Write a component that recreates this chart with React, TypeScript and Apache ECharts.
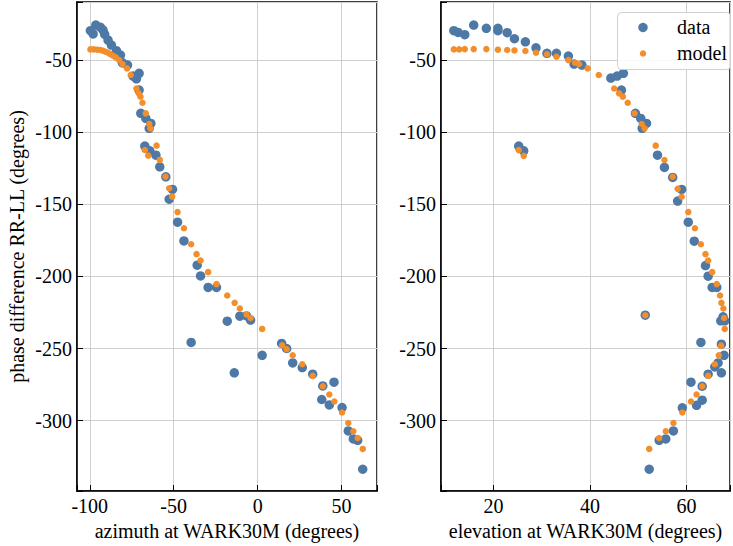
import React, { useEffect, useRef } from "react";
import * as echarts from "echarts";

// azimuth (deg) vs phase difference (deg)
const azimuthData: number[][] = [
  [-99.6, -29.4], [-98.0, -31.7], [-96.4, -25.5], [-93.6, -27.1], [-92.1, -29.0], [-91.1, -32.0],
  [-89.1, -35.9], [-87.1, -39.4], [-84.1, -43.3], [-81.7, -46.3], [-80.5, -51.7], [-77.5, -53.3],
  [-74.2, -60.9], [-70.6, -59.0], [-72.2, -62.8], [-70.6, -70.6], [-69.6, -86.8], [-66.6, -90.3],
  [-63.6, -93.8], [-64.6, -97.2], [-67.2, -109.5], [-64.2, -112.8], [-60.6, -115.8], [-58.3, -123.9],
  [-54.7, -130.8], [-50.7, -139.6], [-52.7, -146.4], [-47.7, -162.3], [-43.9, -175.3], [-36.0, -192.2],
  [-34.0, -199.6], [-29.5, -207.6], [-24.5, -207.6], [-18.1, -231.0], [-10.6, -227.6], [-6.6, -227.4],
  [-4.2, -230.3], [-39.6, -245.8], [-13.9, -266.9], [2.7, -254.7], [14.3, -246.5], [17.3, -250.0],
  [20.9, -260.0], [26.6, -263.2], [32.8, -267.8], [38.8, -276.0], [45.5, -273.4], [38.2, -285.4],
  [42.7, -289.2], [50.3, -291.0], [54.0, -307.2], [57.0, -312.8], [59.6, -313.7], [62.6, -333.8],
];
const azimuthModel: number[][] = [
  [-99.6, -42.4], [-97.6, -42.4], [-95.6, -42.6], [-93.6, -42.8], [-92.1, -43.3], [-90.5, -44.0],
  [-89.1, -44.7], [-87.7, -45.7], [-86.1, -46.8], [-84.5, -47.9], [-82.5, -49.8], [-80.5, -52.6],
  [-77.8, -55.6], [-75.6, -60.2], [-72.2, -69.5], [-70.8, -72.9], [-69.8, -75.2], [-68.6, -79.4],
  [-66.6, -86.8], [-64.6, -94.2], [-63.8, -97.2], [-60.2, -109.2], [-67.2, -112.2], [-65.2, -116.1],
  [-58.3, -119.1], [-54.9, -130.7], [-52.7, -138.8], [-50.9, -144.6], [-47.7, -155.3], [-43.9, -166.5],
  [-39.6, -177.6], [-36.4, -184.5], [-34.0, -188.9], [-29.5, -197.0], [-24.5, -205.3], [-18.1, -213.2],
  [-13.7, -218.3], [-10.6, -222.2], [-6.6, -226.4], [-4.2, -228.8], [2.7, -236.4], [14.6, -247.7],
  [17.3, -250.5], [20.9, -254.7], [26.6, -260.9], [32.8, -269.0], [38.8, -276.2], [42.7, -281.9],
  [45.7, -286.8], [50.3, -294.4], [54.0, -301.7], [57.0, -307.4], [59.6, -312.1], [62.6, -319.7],
];

// elevation (deg) vs phase difference (deg)
const elevationData: number[][] = [
  [11.76, -29.4], [12.65, -30.6], [14.03, -32.2], [15.88, -25.5], [18.5, -27.8], [20.89, -27.8],
  [20.89, -29.4], [22.82, -30.8], [24.32, -35.0], [26.59, -37.1], [28.79, -41.3], [31.06, -45.1],
  [33.03, -45.1], [35.5, -47.0], [36.68, -52.6], [38.3, -53.3], [44.3, -62.3], [46.9, -59.0],
  [45.6, -60.9], [46.5, -70.6], [49.4, -86.8], [50.5, -90.3], [51.7, -93.8], [50.8, -97.2],
  [25.21, -109.5], [26.24, -112.8], [53.97, -115.8], [55.41, -124.3], [57.12, -131.3], [58.98, -139.6],
  [58.15, -147.7], [60.35, -162.3], [61.59, -175.5], [63.92, -192.4], [64.47, -199.8], [65.3, -207.6],
  [66.26, -207.6], [67.56, -228.0], [67.09, -230.8], [67.9, -230.8], [51.44, -226.9], [62.97, -245.8],
  [67.22, -247.0], [67.77, -254.7], [66.53, -260.0], [65.85, -262.8], [67.22, -266.9], [64.47, -267.8],
  [63.24, -276.2], [60.91, -273.4], [63.24, -285.9], [62.07, -289.4], [59.12, -291.2], [57.27, -307.2],
  [55.69, -312.8], [54.32, -313.7], [52.26, -333.8],
];
const elevationModel: number[][] = [
  [11.76, -42.4], [12.86, -42.4], [14.03, -42.2], [15.88, -42.2], [18.5, -42.2], [20.89, -42.6],
  [22.82, -42.8], [24.32, -43.1], [26.59, -43.5], [28.79, -44.7], [31.06, -45.8], [33.03, -47.5],
  [35.5, -49.8], [36.88, -51.7], [37.71, -52.6], [39.5, -55.6], [41.8, -60.2], [45.0, -69.5],
  [46.0, -72.9], [46.8, -75.2], [47.8, -79.4], [49.2, -86.8], [50.7, -94.2], [51.3, -97.2],
  [53.6, -109.2], [25.21, -112.3], [26.24, -116.3], [55.41, -119.2], [57.12, -130.8], [58.15, -139.2],
  [58.98, -144.7], [60.35, -155.3], [61.73, -166.5], [62.97, -177.6], [63.92, -184.5], [64.47, -188.9],
  [65.3, -197.0], [66.26, -205.3], [66.94, -213.2], [67.22, -218.3], [67.63, -222.2], [67.77, -228.8],
  [67.91, -236.4], [51.44, -226.9], [67.15, -248.0], [66.67, -254.7], [65.85, -260.9], [64.47, -269.0],
  [63.24, -276.2], [62.07, -281.9], [60.91, -286.8], [59.12, -294.4], [57.27, -301.7], [55.69, -307.4],
  [54.32, -312.1], [52.26, -319.7],
];

const seriesNames = ["data", "model"];
const xAxisNames = ["azimuth at WARK30M (degrees)", "elevation at WARK30M (degrees)"];
const yAxisName = "phase difference RR-LL (degrees)";
const xTickSteps = [50, 20];
const yTickStep = 50;

const FONT = "Liberation Serif";
const FS = 20;
const BLUE = "#4E79A7";
const ORANGE = "#F28E2B";

const stepFormatter = (step: number) => (v: number) =>
  Math.abs(v / step - Math.round(v / step)) < 1e-6 ? String(Math.round(v)) : "";

export default function App() {
  const ref = useRef<HTMLDivElement>(null);
  useEffect(() => {
    const chart = echarts.init(ref.current!, null, { renderer: "svg" });
    const axisCommon = {
      type: "value" as const,
      axisLine: { show: true, onZero: false, lineStyle: { color: "#000", width: 1.5 } },
      axisTick: { show: true, inside: true, length: 6, lineStyle: { color: "#000", width: 1 } },
      splitLine: { show: true, lineStyle: { color: "#cfcfcf", width: 1 } },
      nameTextStyle: { fontSize: FS, color: "#000", fontFamily: FONT },
    };
    const labelCommon = { color: "#000", fontSize: FS, fontFamily: FONT, margin: 5 };
    const gridCommon = { show: true, borderColor: "#000", borderWidth: 1.5, top: 2, bottom: 55 };
    const textStyle = { fill: "#000", font: `${FS}px ${FONT}`, verticalAlign: "middle" as const };
    chart.setOption({
      animation: false,
      textStyle: { fontFamily: FONT },
      grid: [
        { ...gridCommon, left: 77, right: 356 },
        { ...gridCommon, left: 441, right: 1 },
      ],
      xAxis: [
        {
          ...axisCommon, gridIndex: 0, min: -107.6, max: 71.1, splitNumber: 3,
          axisLabel: { ...labelCommon, formatter: stepFormatter(xTickSteps[0]) },
          name: xAxisNames[0], nameLocation: "middle", nameGap: 27,
        },
        {
          ...axisCommon, gridIndex: 1, min: 9.1, max: 69.0, splitNumber: 3,
          axisLabel: { ...labelCommon, formatter: stepFormatter(xTickSteps[1]) },
          name: xAxisNames[1], nameLocation: "middle", nameGap: 27,
        },
      ],
      yAxis: [
        {
          ...axisCommon, gridIndex: 0, min: -348.9, max: -9.5, splitNumber: 6,
          axisLabel: { ...labelCommon, formatter: stepFormatter(yTickStep) },
          name: yAxisName, nameLocation: "middle", nameGap: 50,
        },
        {
          ...axisCommon, gridIndex: 1, min: -348.9, max: -9.5, splitNumber: 6,
          axisLabel: { ...labelCommon, formatter: stepFormatter(yTickStep) },
        },
      ],
      graphic: [
        {
          type: "rect", left: 617, top: 12, z: 10,
          shape: { width: 113, height: 57, r: 4 },
          style: { fill: "rgba(255,255,255,0.85)", stroke: "#d0d0d0", lineWidth: 1 },
        },
        { type: "circle", shape: { cx: 643, cy: 27.5, r: 4.75 }, style: { fill: BLUE }, z: 11 },
        { type: "circle", shape: { cx: 643, cy: 53.5, r: 3.25 }, style: { fill: ORANGE }, z: 11 },
        { type: "text", x: 677, y: 27, style: { ...textStyle, text: seriesNames[0] }, z: 11 },
        { type: "text", x: 677, y: 53, style: { ...textStyle, text: seriesNames[1] }, z: 11 },
      ],
      series: [
        { name: seriesNames[0], type: "scatter", xAxisIndex: 0, yAxisIndex: 0, data: azimuthData, symbolSize: 9.5, itemStyle: { color: BLUE, opacity: 1 } },
        { name: seriesNames[1], type: "scatter", xAxisIndex: 0, yAxisIndex: 0, data: azimuthModel, symbolSize: 6.5, itemStyle: { color: ORANGE, opacity: 1 } },
        { name: seriesNames[0], type: "scatter", xAxisIndex: 1, yAxisIndex: 1, data: elevationData, symbolSize: 9.5, itemStyle: { color: BLUE, opacity: 1 } },
        { name: seriesNames[1], type: "scatter", xAxisIndex: 1, yAxisIndex: 1, data: elevationModel, symbolSize: 6.5, itemStyle: { color: ORANGE, opacity: 1 } },
      ],
    });
    return () => chart.dispose();
  }, []);
  return <div ref={ref} style={{ position: "absolute", left: 0, top: 0, width: 733, height: 546 }} />;
}
